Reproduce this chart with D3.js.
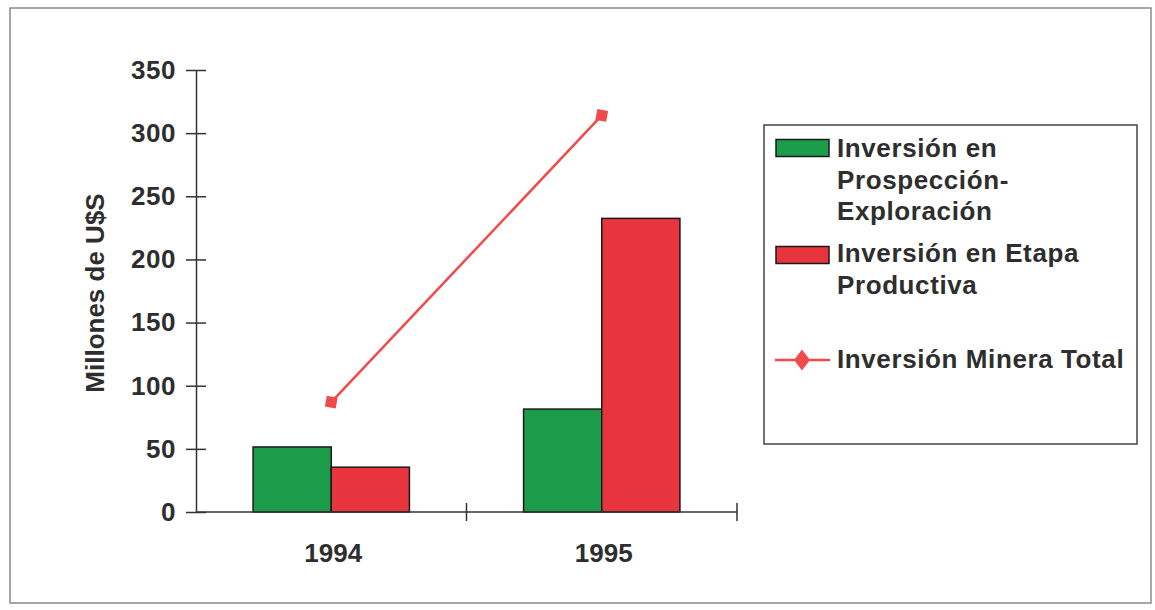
<!DOCTYPE html>
<html>
<head>
<meta charset="utf-8">
<script src="https://cdn.jsdelivr.net/npm/d3@7"></script>
<style>
  body { margin: 0; background: #fff; }
  text { font-family: "Liberation Sans", Arial, sans-serif; font-weight: bold; fill: #2e2e2e; }
</style>
</head>
<body>
<div id="chart"></div>
<script>
// data
var years = ["1994", "1995"];
var prospeccion = [51.5, 81.5];
var productiva = [35.5, 232.5];
var total = [87, 314];
var yTicks = [0, 50, 100, 150, 200, 250, 300, 350];

var W = 1155, H = 610;
var margin = {top: 70, left: 196, bottom: 98, right: 418};

var svg = d3.select("#chart").append("svg")
    .attr("width", W)
    .attr("height", H);

// outer frame
svg.append("rect")
    .attr("x", 10).attr("y", 8)
    .attr("width", 1141).attr("height", 595)
    .attr("fill", "none")
    .attr("stroke", "#8a8a8a")
    .attr("stroke-width", 1.5);

var x0 = margin.left, x1 = W - margin.right;
var yBottom = H - margin.bottom;

var x = d3.scaleBand()
    .domain(years)
    .range([x0, x1])
    .paddingInner(0.422)
    .paddingOuter(0.211);

var y = d3.scaleLinear()
    .domain([0, 350])
    .range([yBottom, margin.top]);

var series = [
  {name: "prosp", values: prospeccion, color: "#1c9b4a"},
  {name: "prod", values: productiva, color: "#e8353d"}
];

var xs = d3.scaleBand()
    .domain(series.map(d => d.name))
    .range([0, x.bandwidth()]);

// bars
series.forEach(function(s){
  svg.append("g").selectAll("rect")
    .data(s.values)
    .enter()
    .append("rect")
      .attr("x", (d, i) => x(years[i]) + xs(s.name))
      .attr("y", d => y(d))
      .attr("width", xs.bandwidth())
      .attr("height", d => yBottom - y(d))
      .attr("fill", s.color)
      .attr("stroke", "#1a1a1a")
      .attr("stroke-width", 1.5);
});

// y axis with crossing ticks
var yAxis = d3.axisLeft(y).tickValues(yTicks).tickSize(0).tickPadding(20);
var gy = svg.append("g")
    .attr("transform", "translate(" + x0 + ",0)")
    .call(yAxis);
gy.select(".domain").attr("stroke", "#333").attr("stroke-width", 1.5);
gy.selectAll(".tick line").remove();
gy.selectAll(".tick").append("line")
    .attr("x1", -10).attr("x2", 10)
    .attr("stroke", "#333").attr("stroke-width", 1.5);
gy.selectAll(".tick text")
    .style("font-size", "26px")
    .style("letter-spacing", "0.5px")
    .attr("fill", "#2e2e2e")
    .attr("font-family", null);

// x axis
svg.append("line")
    .attr("x1", x0).attr("x2", x1)
    .attr("y1", yBottom).attr("y2", yBottom)
    .attr("stroke", "#333").attr("stroke-width", 1.5);
var step = x.step();
years.forEach(function(yr){
  var right = x(yr) + x.bandwidth() + step * 0.211;
  svg.append("line")
      .attr("x1", right).attr("x2", right)
      .attr("y1", yBottom - 9).attr("y2", yBottom + 9)
      .attr("stroke", "#333").attr("stroke-width", 1.5);
});
svg.append("g").selectAll("text")
    .data(years)
    .enter()
    .append("text")
      .attr("x", d => x(d) + x.bandwidth() / 2 + 2)
      .attr("y", yBottom + 50)
      .attr("text-anchor", "middle")
      .style("font-size", "26px")
      .text(d => d);

// y axis title
svg.append("text")
    .attr("transform", "translate(104," + ((margin.top + yBottom) / 2 + 2) + ") rotate(-90)")
    .attr("text-anchor", "middle")
    .style("font-size", "26px")
    .text("Millones de U$S");

// total line
var line = d3.line()
    .x((d, i) => x(years[i]) + x.bandwidth() / 2)
    .y(d => y(d));
svg.append("path")
    .datum(total)
    .attr("fill", "none")
    .attr("stroke", "#f04a4a")
    .attr("stroke-width", 2.5)
    .attr("d", line);
svg.append("g").selectAll("path")
    .data(total)
    .enter()
    .append("path")
      .attr("d", d3.symbol().type(d3.symbolSquare).size(120))
      .attr("transform", (d, i) => "translate(" + (x(years[i]) + x.bandwidth() / 2) + "," + y(d) + ") rotate(10)")
      .attr("fill", "#f04a4a");

// legend
var lg = svg.append("g");
lg.append("rect")
    .attr("x", 764).attr("y", 125)
    .attr("width", 373).attr("height", 319)
    .attr("fill", "#fff")
    .attr("stroke", "#444")
    .attr("stroke-width", 1.5);

var legendItems = [
  {lines: ["Inversión en", "Prospección-", "Exploración"], color: "#1c9b4a", type: "rect", y: 148, base: 157},
  {lines: ["Inversión en Etapa", "Productiva"], color: "#e8353d", type: "rect", y: 255, base: 262},
  {lines: ["Inversión Minera Total"], color: "#f04a4a", type: "line", y: 360, base: 368}
];

legendItems.forEach(function(it){
  if (it.type === "rect") {
    lg.append("rect")
        .attr("x", 776).attr("y", it.y - 8.5)
        .attr("width", 53).attr("height", 17)
        .attr("fill", it.color)
        .attr("stroke", "#1a1a1a")
        .attr("stroke-width", 1.5);
  } else {
    lg.append("line")
        .attr("x1", 775).attr("x2", 830)
        .attr("y1", it.y).attr("y2", it.y)
        .attr("stroke", it.color).attr("stroke-width", 2.5);
    lg.append("path")
        .attr("d", d3.symbol().type(d3.symbolDiamond).size(130))
        .attr("transform", "translate(802," + it.y + ") scale(1.3,1)")
        .attr("fill", it.color);
  }
  it.lines.forEach(function(t, j){
    lg.append("text")
        .attr("x", 837)
        .attr("y", it.base + j * 31.5)
        .style("font-size", "26px")
        .style("letter-spacing", "0.6px")
        .text(t);
  });
});
</script>
</body>
</html>
